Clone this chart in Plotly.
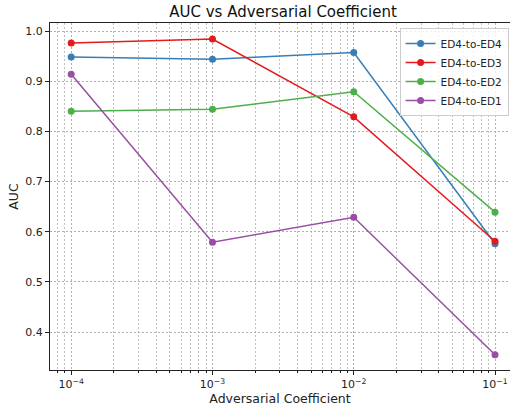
import plotly.graph_objects as go

coeffs = [1e-4, 1e-3, 1e-2, 1e-1]
series_names = ["ED4-to-ED4", "ED4-to-ED3", "ED4-to-ED2", "ED4-to-ED1"]
ed4 = [0.948, 0.944, 0.957, 0.576]
ed3 = [0.976, 0.984, 0.829, 0.581]
ed2 = [0.840, 0.844, 0.879, 0.639]
ed1 = [0.914, 0.579, 0.629, 0.355]
colors = ["#377eb8", "#e41a1c", "#4daf4a", "#984ea3"]
tick_vals = [1e-4, 1e-3, 1e-2, 1e-1]
tick_text = ["10<sup>−4</sup>", "10<sup>−3</sup>", "10<sup>−2</sup>", "10<sup>−1</sup>"]
y_ticks = [0.4, 0.5, 0.6, 0.7, 0.8, 0.9, 1.0]

fig = go.Figure()
for name, vals, c in zip(series_names, [ed4, ed3, ed2, ed1], colors):
    fig.add_trace(go.Scatter(
        x=coeffs, y=vals, name=name, mode="lines+markers",
        line=dict(color=c, width=1.5),
        marker=dict(color=c, size=7),
    ))

font = "DejaVu Sans, Verdana, sans-serif"
grid = dict(gridcolor="#b0b0b0", gridwidth=0.6, griddash="2px,2px")

fig.update_layout(
    width=510, height=410,
    margin=dict(l=50, r=0, t=23, b=40),
    paper_bgcolor="white", plot_bgcolor="white",
    font=dict(family=font, color="#222", size=11),
    title=dict(text="AUC vs Adversarial Coefficient", x=283/510, xanchor="center",
               y=1 - 12/410, yanchor="middle", font=dict(size=15, color="#111")),
    legend=dict(x=0.997, xanchor="right", y=0.9856, yanchor="top",
                bgcolor="rgba(255,255,255,0.8)", bordercolor="#cccccc", borderwidth=1,
                font=dict(size=10.5), itemwidth=30, tracegroupgap=0),
    showlegend=True,
)
fig.update_xaxes(
    type="log", range=[-4.15, -0.894],
    tickvals=tick_vals, ticktext=tick_text,
    ticks="outside", ticklen=4, tickcolor="#222",
    showline=True, linecolor="#222", linewidth=1, mirror=True,
    showgrid=True, **grid,
    minor=dict(dtick="D1", ticks="outside", ticklen=2, tickcolor="#222", showgrid=True,
               gridcolor="#c0c0c0", gridwidth=0.5, griddash="2px,2px"),
    title=dict(text="Adversarial Coefficient", font=dict(size=12.5), standoff=4),
    zeroline=False,
)
fig.update_yaxes(
    range=[0.3245, 1.016],
    tickvals=y_ticks, ticktext=[f"{v:.1f}" for v in y_ticks],
    ticks="outside", ticklen=4, tickcolor="#222",
    showline=True, linecolor="#222", linewidth=1, mirror=False,
    showgrid=True, **grid,
    title=dict(text="AUC", font=dict(size=12.5), standoff=3),
    zeroline=False,
)

fig.write_html("out.html", config={"displayModeBar": False},
               post_script="document.body.style.margin='0';document.body.style.overflow='hidden';")
